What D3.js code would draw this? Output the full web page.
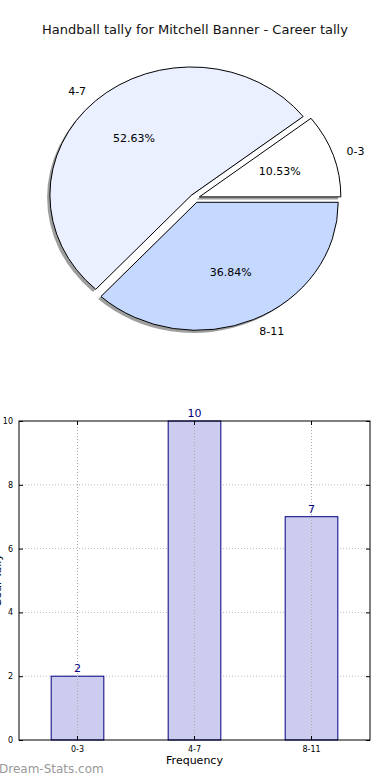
<!DOCTYPE html>
<html>
<head>
<meta charset="utf-8">
<script src="https://cdn.jsdelivr.net/npm/d3@7"></script>
<style>
  html, body { margin: 0; padding: 0; background: #fff; }
  svg { display: block; }
  text { font-family: "DejaVu Sans", sans-serif; }
</style>
</head>
<body>
<svg id="chart" width="390" height="780"></svg>
<script>
// ---- data ----
const title = "Handball tally for Mitchell Banner - Career tally";
const categories = ["0-3", "4-7", "8-11"];
const counts = [2, 10, 7];
const pieColors = ["#ffffff", "#eaf0ff", "#c5d8ff"];
const yTicks = [0, 2, 4, 6, 8, 10];
const xLabel = "Frequency";
const yLabel = "Goal Tally";
const watermark = "Dream-Stats.com";

const svg = d3.select("#chart");

// ---- title ----
svg.append("text")
  .attr("x", 195).attr("y", 34)
  .attr("text-anchor", "middle")
  .attr("font-size", 13)
  .attr("fill", "#111")
  .text(title);

// ---- pie ----
const cx = 194.8, cy = 198.3, rx = 141.5, ry = 128;
const explode = 0.034;
const total = d3.sum(counts);
const pie = d3.pie().sort(null).value(d => d)
  .startAngle(Math.PI / 2).endAngle(Math.PI / 2 - 2 * Math.PI);
const arcs = pie(counts);
const arcUnit = d3.arc().innerRadius(0).outerRadius(1);

function midTheta(a) {
  const m = (a.startAngle + a.endAngle) / 2;
  return Math.PI / 2 - m;
}

const pieG = svg.append("g");
arcs.forEach((a, i) => {
  const t = midTheta(a);
  const ox = cx + explode * rx * Math.cos(t) - 2.8;
  const oy = cy - explode * ry * Math.sin(t) + 2.6;
  pieG.append("path")
    .attr("d", arcUnit(a))
    .attr("transform", `translate(${ox},${oy}) scale(${rx},${ry})`)
    .attr("fill", "#000").attr("fill-opacity", 0.38);
});
arcs.forEach((a, i) => {
  const t = midTheta(a);
  const ox = cx + explode * rx * Math.cos(t);
  const oy = cy - explode * ry * Math.sin(t);
  pieG.append("path")
    .attr("d", arcUnit(a))
    .attr("transform", `translate(${ox},${oy}) scale(${rx},${ry})`)
    .attr("fill", pieColors[i])
    .attr("stroke", "#000").attr("stroke-width", 1)
    .attr("vector-effect", "non-scaling-stroke");
});
arcs.forEach((a, i) => {
  const t = midTheta(a);
  const c = Math.cos(t), s = Math.sin(t);
  const px = cx + (explode + 0.6) * rx * c;
  const py = cy - (explode + 0.6) * ry * s;
  pieG.append("text")
    .attr("x", px).attr("y", py)
    .attr("text-anchor", "middle").attr("dominant-baseline", "central")
    .attr("font-size", 11).attr("fill", "#000")
    .text((counts[i] / total * 100).toFixed(2) + "%");
  const lx = cx + (explode + 1.1) * rx * c;
  const ly = cy - (explode + 1.1) * ry * s;
  pieG.append("text")
    .attr("x", lx).attr("y", ly)
    .attr("text-anchor", c < 0 ? "end" : "start").attr("dominant-baseline", "central")
    .attr("font-size", 11).attr("fill", "#000")
    .text(categories[i]);
});

// ---- bar chart ----
const pL = 19, pR = 370, pT = 421, pB = 740;
const x = d3.scaleBand().domain(categories).range([pL, pR])
  .paddingInner(0.55).paddingOuter(0.275);
const y = d3.scaleLinear().domain([0, 10]).range([pB, pT]);
const g = svg.append("g");

g.selectAll(".hg").data(yTicks.slice(1, -1)).enter().append("line")
  .attr("x1", pL).attr("x2", pR)
  .attr("y1", d => y(d)).attr("y2", d => y(d))
  .attr("stroke", "#bbb").attr("stroke-width", 1).attr("stroke-dasharray", "1,2");

g.selectAll(".bar").data(counts).enter().append("rect")
  .attr("x", (d, i) => x(categories[i]))
  .attr("y", d => y(d))
  .attr("width", x.bandwidth())
  .attr("height", d => pB - y(d))
  .attr("fill", "#ccccee")
  .attr("stroke", "#000080").attr("stroke-width", 1);

g.selectAll(".vg").data(categories).enter().append("line")
  .attr("x1", d => x(d) + x.bandwidth() / 2).attr("x2", d => x(d) + x.bandwidth() / 2)
  .attr("y1", pT).attr("y2", pB)
  .attr("stroke", "#aaa").attr("stroke-width", 1).attr("stroke-dasharray", "1,2");

g.selectAll(".val").data(counts).enter().append("text")
  .attr("x", (d, i) => x(categories[i]) + x.bandwidth() / 2)
  .attr("y", d => y(d) - 4)
  .attr("text-anchor", "middle")
  .attr("font-size", 11).attr("fill", "#000080")
  .text(d => d);

g.append("rect")
  .attr("x", pL).attr("y", pT)
  .attr("width", pR - pL).attr("height", pB - pT)
  .attr("fill", "none").attr("stroke", "#000").attr("stroke-width", 1);

const yAxis = d3.axisLeft(y).tickValues(yTicks).tickSize(-4).tickPadding(6).tickFormat(d3.format("d"));
const yA = g.append("g").attr("transform", `translate(${pL},0)`).call(yAxis);
yA.select(".domain").remove();
yA.selectAll("text").attr("font-size", 8).attr("font-family", "DejaVu Sans Condensed, DejaVu Sans, sans-serif").attr("fill", "#000");
yA.selectAll("line").attr("stroke", "#000");
const yR = g.append("g").attr("transform", `translate(${pR},0)`).call(d3.axisRight(y).tickValues(yTicks).tickSize(-4).tickFormat(""));
yR.select(".domain").remove();

const xAxis = d3.axisBottom(x).tickSize(-4).tickPadding(6);
const xA = g.append("g").attr("transform", `translate(0,${pB})`).call(xAxis);
xA.select(".domain").remove();
xA.selectAll("text").attr("font-size", 8).attr("font-family", "DejaVu Sans Condensed, DejaVu Sans, sans-serif").attr("fill", "#000");
const xT = g.append("g").attr("transform", `translate(0,${pT})`).call(d3.axisTop(x).tickSize(-4).tickFormat(""));
xT.select(".domain").remove();

svg.append("text")
  .attr("x", (pL + pR) / 2).attr("y", 764)
  .attr("text-anchor", "middle").attr("font-size", 11).attr("fill", "#000")
  .text(xLabel);
svg.append("text")
  .attr("transform", `translate(1,${(pT + pB) / 2}) rotate(-90)`)
  .attr("text-anchor", "middle").attr("font-size", 11).attr("fill", "#000")
  .text(yLabel);

svg.append("text")
  .attr("x", -1).attr("y", 773)
  .attr("font-size", 12).attr("font-weight", "normal").attr("fill", "#999")
  .text(watermark);
</script>
</body>
</html>
